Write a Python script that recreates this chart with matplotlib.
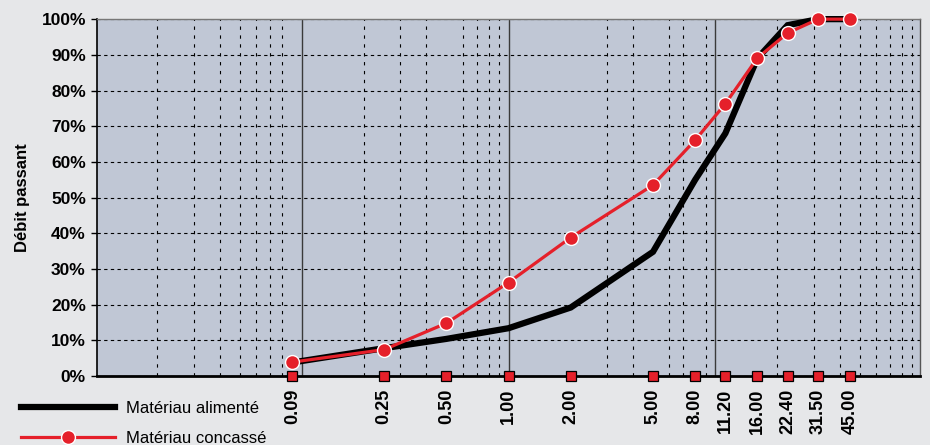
"""
Courbe granulométrique : matériau alimenté vs matériau concassé
"""
import matplotlib
matplotlib.use('Agg')
import matplotlib.pyplot as plt
from matplotlib.ticker import FixedLocator, LogLocator, PercentFormatter, NullFormatter

plt.rcParams['font.family'] = ['Liberation Sans', 'DejaVu Sans']

# Données
tamis = [0.09, 0.25, 0.50, 1.00, 2.00, 5.00, 8.00, 11.20, 16.00, 22.40, 31.50, 45.00]
alimente = [0.038, 0.078, 0.104, 0.134, 0.192, 0.348, 0.55, 0.68, 0.89, 0.983, 1.0, 1.0]
concasse = [0.039, 0.074, 0.148, 0.262, 0.388, 0.535, 0.661, 0.763, 0.891, 0.961, 1.0, 1.0]
tick_labels = [f"{t:.2f}" for t in tamis]
decades = [0.1, 1.0, 10.0]

ROUGE = '#e5202a'
FOND = '#e6e7e9'
FOND_AXE = '#c0c7d5'

fig = plt.figure(figsize=(9.3, 4.45), dpi=100, facecolor=FOND)
ax = fig.add_axes([0.1043, 0.155, 0.8850, 0.802])
ax.set_facecolor(FOND_AXE)

ax.set_xscale('log')
ax.set_xlim(0.0102, 98)
ax.set_ylim(0, 1)

# Grille
ax.xaxis.set_minor_locator(LogLocator(base=10, subs=[2, 3, 4, 5, 6, 7, 8, 9]))
ax.xaxis.set_minor_formatter(NullFormatter())
ax.grid(True, which='minor', axis='x', color='black', linestyle=(0, (3, 5)), linewidth=0.8)
ax.set_yticks([i / 10 for i in range(11)])
ax.grid(True, which='major', axis='y', color='black', linestyle=(0, (3, 3)), linewidth=0.8)
for d in decades:
    ax.axvline(d, color='#3a3a3a', linewidth=1.0, zorder=1)

# Courbes
ax.plot(tamis, alimente, color='black', linewidth=4.5, solid_joinstyle='miter',
        label='Matériau alimenté', zorder=3, clip_on=False)
ax.plot(tamis, concasse, color=ROUGE, linewidth=2.3, marker='o', markersize=10,
        markerfacecolor=ROUGE, markeredgecolor='white', markeredgewidth=1.0,
        label='Matériau concassé', zorder=4, clip_on=False)
ax.plot(tamis, [0] * len(tamis), linestyle='none', marker='s', markersize=6.5,
        markerfacecolor=ROUGE, markeredgecolor='black', markeredgewidth=0.9,
        clip_on=False, zorder=5)

# Axes
ax.xaxis.set_major_locator(FixedLocator(tamis))
ax.set_xticklabels(tick_labels, rotation=90, fontsize=13, fontweight='bold')
ax.tick_params(axis='x', which='both', length=0, pad=9)
ax.yaxis.set_major_formatter(PercentFormatter(1.0, decimals=0))
ax.tick_params(axis='y', which='major', length=4, width=1, direction='out',
               labelsize=12.5, pad=4)
for lab in ax.get_yticklabels():
    lab.set_fontweight('bold')
ax.set_ylabel('Débit passant', fontsize=12, fontweight='bold', labelpad=8)

ax.spines['left'].set_color('black')
ax.spines['left'].set_linewidth(1.2)
ax.spines['bottom'].set_color('black')
ax.spines['bottom'].set_linewidth(2.0)
ax.spines['right'].set_color('#555555')
ax.spines['right'].set_linewidth(1.0)
ax.spines['top'].set_color('#777777')
ax.spines['top'].set_linewidth(1.0)

# Légende
fig.legend(loc='upper left', bbox_to_anchor=(0.023, 0.099), frameon=False,
           fontsize=12, handlelength=5.6, handletextpad=0.7, labelspacing=0.9,
           numpoints=1, borderaxespad=0, borderpad=0)

fig.savefig('out.png', dpi=100, facecolor=FOND)
